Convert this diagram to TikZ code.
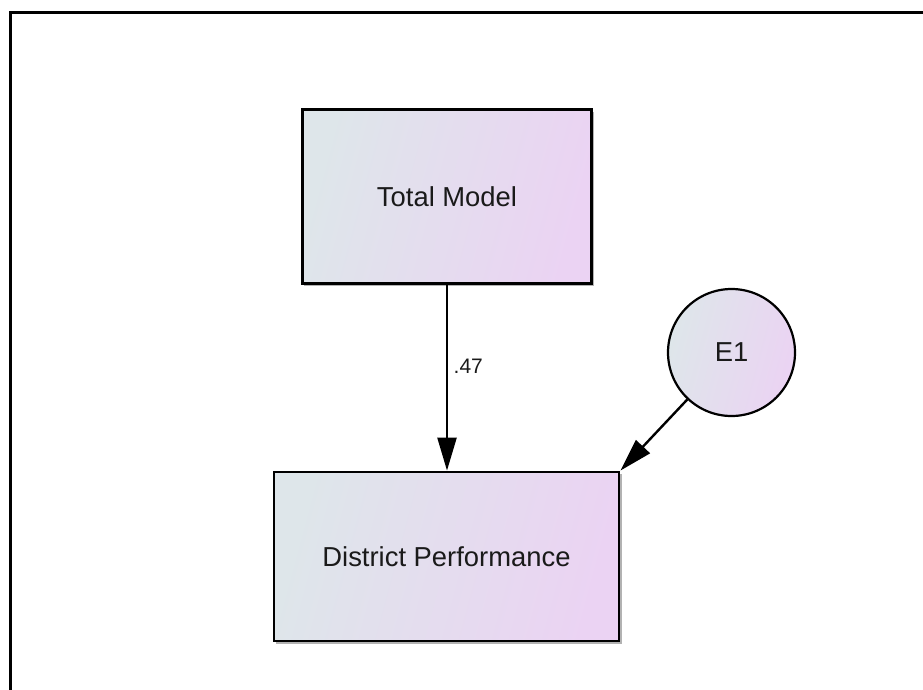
\documentclass[tikz,border=0pt]{standalone}
\usepackage{fontspec}
\setmainfont{Liberation Sans}
\usetikzlibrary{arrows.meta}
\definecolor{fillA}{HTML}{DEE6EA}
\definecolor{fillB}{HTML}{EBD3F3}
\definecolor{ink}{HTML}{1A1A1A}
\begin{document}
\begin{tikzpicture}[x=1pt,y=-1pt,
  shade/.style={left color=fillA, right color=fillB, shading angle=75},
  obs/.style={shade, draw=black, line width=2.8pt, inner sep=0pt,
    font=\fontsize{27.4}{32}\selectfont, text=ink},
  latent/.style={shade, circle, draw=black, line width=2.2pt, inner sep=0pt,
    minimum size=127pt, font=\fontsize{27.4}{32}\selectfont, text=ink},
  path arrow/.style={line width=2.4pt, -{Triangle[length=33pt, width=19pt]}},
  coef/.style={font=\fontsize{21}{24}\selectfont, text=ink, inner sep=0pt, anchor=west}
]
\useasboundingbox (0,0) rectangle (923,689);
% outer frame, running past the right and bottom edges
\draw[line width=3pt] (10,12) rectangle (960,720);

% soft shadows under the boxes
\fill[black!30] (304,112) rectangle (593.5,285.5);
\fill[black!30] (276,474) rectangle (621.5,643.5);

\node[obs, minimum width=289pt, minimum height=174pt] (tm) at (447,196.5) {Total Model};
\node[obs, minimum width=345pt, minimum height=169pt] (dp) at (446.5,556.5) {District Performance};
\node[latent] (e1) at (731.5,352.5) {E1};

\draw[path arrow] (tm.south) -- (tm.south |- dp.north);
\draw[path arrow] (e1) -- (dp.north east);

\node[coef] (w) at (453.5,366) {.47};
\end{tikzpicture}
\end{document}
